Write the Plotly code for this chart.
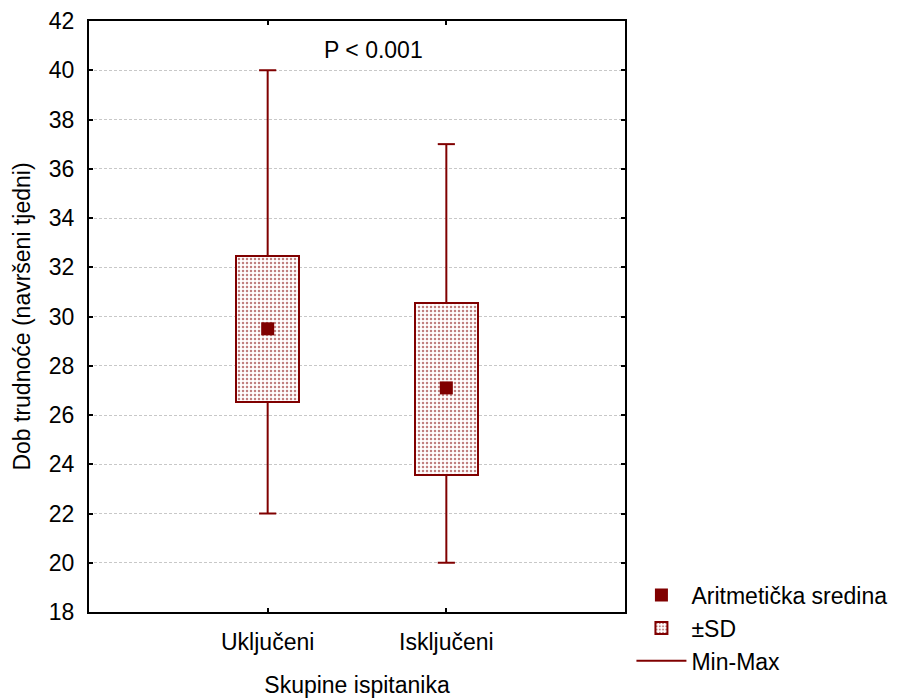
import plotly.graph_objects as go

categories = ["Uključeni", "Isključeni"]
means = [29.5, 27.1]
sd_low = [26.52, 23.57]
sd_high = [32.47, 30.53]
mins = [22, 20]
maxs = [40, 37]
y_ticks = list(range(18, 43, 2))

DR = "#800000"
FONT = "Liberation Sans, Arial, sans-serif"
FS = 23
pos = [1, 2]
cap = 0.048

fig = go.Figure()

fig.add_trace(go.Scatter(
    x=pos, y=means, mode="markers", name="Aritmetička sredina",
    marker=dict(symbol="square", size=13, color=DR), legendrank=1))

fig.add_trace(go.Bar(
    x=pos, y=[h - l for h, l in zip(sd_high, sd_low)], base=sd_low, width=0.35,
    name="±SD", legendrank=2,
    marker=dict(color="white", line=dict(color=DR, width=2),
                pattern=dict(shape=".", fgcolor=DR, bgcolor="white", size=4, solidity=0.3))))

wx, wy = [], []
for p, lo, hi, mn, mx in zip(pos, sd_low, sd_high, mins, maxs):
    wx += [p, p, None, p, p, None, p - cap, p + cap, None, p - cap, p + cap, None]
    wy += [mx, hi, None, lo, mn, None, mx, mx, None, mn, mn, None]
fig.add_trace(go.Scatter(
    x=wx, y=wy, mode="lines", name="Min-Max", legendrank=3,
    line=dict(color=DR, width=2), connectgaps=False))

fig.add_annotation(x=1.59, y=40.82, text="P < 0.001", showarrow=False,
                   font=dict(size=FS, color="black", family=FONT))

axis_common = dict(showline=True, linecolor="black", linewidth=2, mirror="ticks",
                   ticks="inside", ticklen=4, tickwidth=2, tickcolor="black",
                   zeroline=False, tickfont=dict(size=FS, color="black", family=FONT))

fig.update_xaxes(range=[0, 3], tickvals=pos, ticktext=categories, showgrid=False,
                 ticklabelstandoff=8,
                 title=dict(text="Skupine ispitanika", font=dict(size=FS, color="black", family=FONT), standoff=30),
                 **axis_common)
fig.update_yaxes(range=[18, 42], tickvals=y_ticks, showgrid=True, gridcolor="#c8c8c8",
                 griddash="3px,2px", gridwidth=1, ticklabelstandoff=8,
                 title=dict(text="Dob trudnoće (navršeni tjedni)", font=dict(size=FS, color="black", family=FONT), standoff=12),
                 **axis_common)

fig.update_layout(
    width=885, height=690, plot_bgcolor="white", paper_bgcolor="white",
    margin=dict(l=81, r=268, t=13, b=86, autoexpand=False),
    font=dict(family=FONT, size=FS, color="black"),
    showlegend=True,
    legend=dict(x=1.012, y=0.065, xanchor="left", yanchor="top",
                font=dict(size=FS, color="black", family=FONT),
                bgcolor="rgba(0,0,0,0)", tracegroupgap=0, itemwidth=50),
    bargap=0,
)

fig.write_html("out.html")
